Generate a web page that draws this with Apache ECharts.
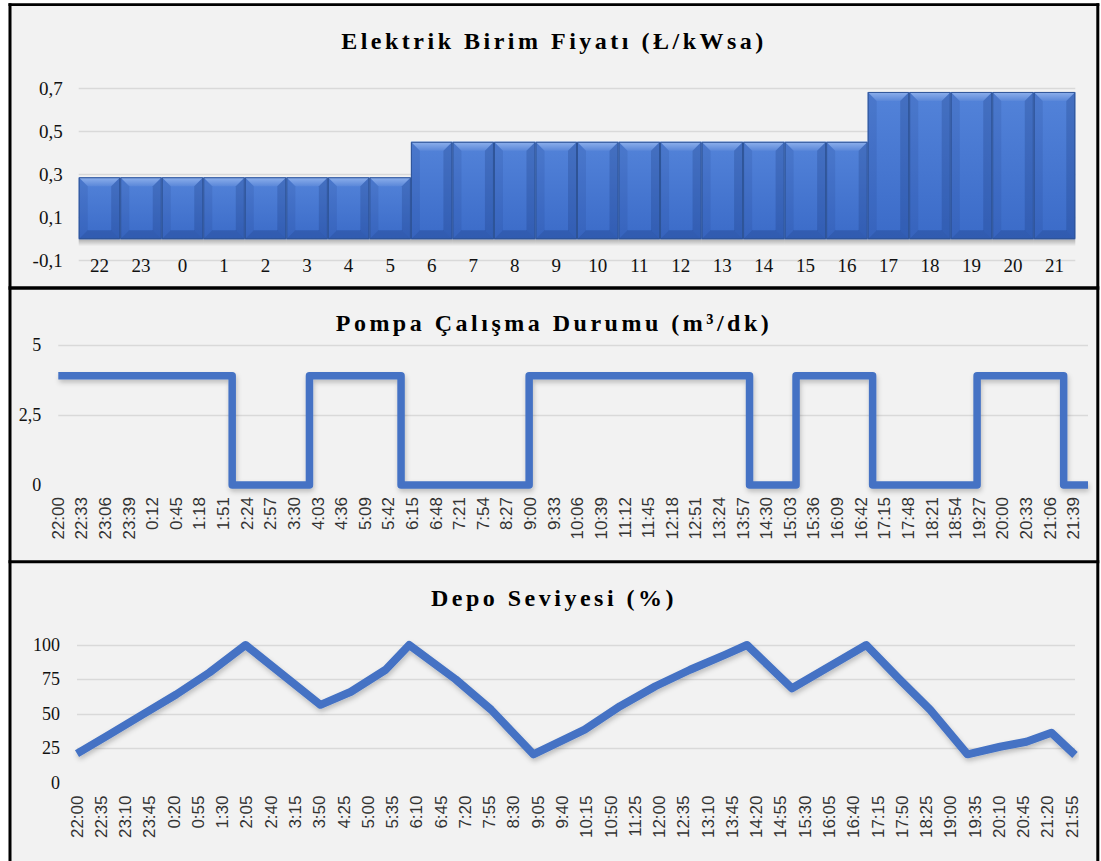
<!DOCTYPE html>
<html>
<head>
<meta charset="utf-8">
<script src="https://cdn.jsdelivr.net/npm/echarts@6.0.0/dist/echarts.min.js"></script>
<style>
  html, body { margin: 0; padding: 0; background: #ffffff; }
  #chart { width: 1101px; height: 861px; }
  /* spaced-out bold panel titles */
  #chart text[style*="bold"] { letter-spacing: 3.5px; }
</style>
</head>
<body>
<div id="chart"></div>
<script>
// ---- Electricity unit price per hour (tariff day starts at 22:00) ----
const priceHours = ['22', '23', '0', '1', '2', '3', '4', '5', '6', '7', '8', '9',
  '10', '11', '12', '13', '14', '15', '16', '17', '18', '19', '20', '21'];
const unitPrice = [0.288, 0.288, 0.288, 0.288, 0.288, 0.288, 0.288, 0.288,
  0.453, 0.453, 0.453, 0.453, 0.453, 0.453, 0.453, 0.453, 0.453, 0.453, 0.453,
  0.685, 0.685, 0.685, 0.685, 0.685];
const priceTicks = [-0.1, 0.1, 0.3, 0.5, 0.7];

// ---- Pump switching instants and the flow that holds after each one (m3/dk) ----
const pumpTimes = ['22:00', '2:03', '3:51', '5:59', '8:58', '14:06', '15:11', '16:58', '19:24', '21:25', '21:59'];
const pumpFlow = [3.9, 0, 3.9, 0, 3.9, 0, 3.9, 0, 3.9, 0, 0];
const pumpTicks = [0, 2.5, 5];
const pumpLabelStep = 33;   // minutes between time labels

// ---- Tank level (%) at its turning points through the day ----
const levelTimes = ['22:00', '22:47', '23:35', '0:23', '1:11', '2:03', '3:51', '4:35', '5:25', '5:59',
  '7:06', '7:57', '8:58', '10:12', '11:03', '11:54', '12:44', '13:35', '14:06', '15:11',
  '16:58', '17:46', '18:30', '19:24', '20:11', '20:49', '21:25', '21:59'];
const tankLevel = [21, 35, 49.5, 64, 80, 100, 56.5, 66, 82, 100,
  75, 53, 20.5, 38.5, 55.5, 70, 82, 93, 100, 68.5,
  100, 75, 53, 20.5, 26, 29.6, 36.2, 20];
const levelTicks = [0, 25, 50, 75, 100];
const levelLabelStep = 35;

// ---- helpers ----
const DAY_START = 22 * 60;
function toMinute(t) {
  const [h, m] = t.split(':').map(Number);
  return (h * 60 + m - DAY_START + 1440) % 1440;
}
function clock(v) {
  const tot = (DAY_START + Math.round(v)) % 1440;
  const h = Math.floor(tot / 60), m = tot % 60;
  return h + ':' + String(m).padStart(2, '0');
}
const comma = v => String(+(+v).toFixed(2)).replace('.', ',');

const SERIF = 'Liberation Serif';
const SANS = 'Liberation Sans';
const BLUE = '#4472c4';
const GRID_LINE = { show: true, lineStyle: { color: '#d9d9d9', width: 1.4 } };

function vgrad(c0, c1) {
  return { type: 'linear', x: 0, y: 0, x2: 0, y2: 1,
    colorStops: [{ offset: 0, color: c0 }, { offset: 1, color: c1 }] };
}

// Bevelled column, in the style of a spreadsheet "angle" bevel
function bevelBar(params, api) {
  const cat = api.value(0), val = api.value(1);
  const top = api.coord([cat, val]);
  const base = api.coord([cat, 0]);
  const w = api.size([1, 0])[0];
  const x0 = top[0] - w / 2, x1 = top[0] + w / 2;
  const yT = top[1], yB = base[1];
  const b = Math.min(9, w / 4, (yB - yT) / 4);
  return {
    type: 'group',
    children: [
      { type: 'rect', shape: { x: x0, y: yB, width: w, height: 7 },
        style: { fill: vgrad('rgba(0,0,0,0.28)', 'rgba(0,0,0,0)') } },
      { type: 'rect', shape: { x: x0, y: yT, width: w, height: yB - yT },
        style: { fill: vgrad('#5383d9', '#3b6bc8') } },
      { type: 'polygon', shape: { points: [[x0, yT], [x1, yT], [x1 - b, yT + b], [x0 + b, yT + b]] },
        style: { fill: vgrad('#8fb1ec', '#5a87d9') } },
      { type: 'polygon', shape: { points: [[x0, yT], [x0 + b, yT + b], [x0 + b, yB - b], [x0, yB]] },
        style: { fill: 'rgba(25,55,125,0.14)' } },
      { type: 'polygon', shape: { points: [[x1, yT], [x1 - b, yT + b], [x1 - b, yB - b], [x1, yB]] },
        style: { fill: 'rgba(20,45,110,0.22)' } },
      { type: 'polygon', shape: { points: [[x0, yB], [x0 + b, yB - b], [x1 - b, yB - b], [x1, yB]] },
        style: { fill: 'rgba(20,45,110,0.26)' } },
      { type: 'rect', shape: { x: x0 + 0.5, y: yT + 0.5, width: w - 1, height: yB - yT - 1 },
        style: { fill: 'none', stroke: '#2e5396', lineWidth: 1 } }
    ]
  };
}

const titleStyle = { fontFamily: SERIF, fontWeight: 'bold', fontSize: 24, fill: '#000',
  textAlign: 'center', textVerticalAlign: 'middle' };

const chart = echarts.init(document.getElementById('chart'), null, { renderer: 'svg' });

chart.setOption({
  animation: false,
  backgroundColor: '#f2f2f2',
  grid: [
    { left: 78.7, top: 88.7, width: 996.6, height: 172, outerBoundsMode: 'none' },
    { left: 58.3, top: 345, width: 1029.7, height: 140, outerBoundsMode: 'none' },
    { left: 77, top: 645, width: 998, height: 137.5, outerBoundsMode: 'none' }
  ],
  xAxis: [
    { type: 'category', gridIndex: 0, data: priceHours, boundaryGap: true,
      axisLine: { show: false }, axisTick: { show: false }, splitLine: { show: false },
      axisLabel: { interval: 0, margin: -5, fontFamily: SERIF, fontSize: 19, color: '#111' } },
    { type: 'value', gridIndex: 1, min: 0, max: 1439, interval: pumpLabelStep,
      axisLine: { show: false }, axisTick: { show: false }, splitLine: { show: false },
      axisLabel: { rotate: 90, margin: 12, showMaxLabel: false, showMinLabel: true,
        formatter: clock, fontFamily: SANS, fontSize: 17, color: '#333' } },
    { type: 'value', gridIndex: 2, min: 0, max: 1439, interval: levelLabelStep,
      axisLine: { show: false }, axisTick: { show: false }, splitLine: { show: false },
      axisLabel: { rotate: 90, margin: 13, showMaxLabel: false, showMinLabel: true,
        formatter: clock, fontFamily: SANS, fontSize: 17, color: '#333' } }
  ],
  yAxis: [
    { type: 'value', gridIndex: 0, min: priceTicks[0], max: priceTicks[priceTicks.length - 1],
      axisLine: { show: false },
      axisTick: { show: false, customValues: priceTicks },
      splitLine: GRID_LINE,
      axisLabel: { customValues: priceTicks, formatter: v => comma(v), margin: 16,
        fontFamily: SERIF, fontSize: 19, color: '#111' } },
    { type: 'value', gridIndex: 1, min: pumpTicks[0], max: pumpTicks[2], interval: pumpTicks[1],
      axisLine: { show: false }, axisTick: { show: false },
      splitLine: Object.assign({ showMinLine: false }, GRID_LINE),
      axisLabel: { formatter: v => comma(v), margin: 17, fontFamily: SERIF, fontSize: 18, color: '#111' } },
    { type: 'value', gridIndex: 2, min: levelTicks[0], max: levelTicks[4], interval: levelTicks[1],
      axisLine: { show: false }, axisTick: { show: false },
      splitLine: Object.assign({ showMinLine: false }, GRID_LINE),
      axisLabel: { margin: 17, fontFamily: SERIF, fontSize: 18, color: '#111' } }
  ],
  series: [
    { type: 'custom', name: 'Elektrik Birim Fiyatı', xAxisIndex: 0, yAxisIndex: 0,
      renderItem: bevelBar, encode: { x: 0, y: 1 },
      data: unitPrice.map((v, i) => [i, v]) },
    { type: 'line', name: 'Pompa Çalışma Durumu', xAxisIndex: 1, yAxisIndex: 1,
      step: 'end', showSymbol: false, clip: false,
      lineStyle: { color: BLUE, width: 7.5, join: 'round', cap: 'butt',
        shadowColor: 'rgba(0,0,0,0.22)', shadowBlur: 5, shadowOffsetX: 1, shadowOffsetY: 3 },
      data: pumpTimes.map((t, i) => [toMinute(t), pumpFlow[i]]) },
    { type: 'line', name: 'Depo Seviyesi', xAxisIndex: 2, yAxisIndex: 2,
      showSymbol: false, clip: false,
      lineStyle: { color: BLUE, width: 8, join: 'round', cap: 'butt',
        shadowColor: 'rgba(0,0,0,0.22)', shadowBlur: 5, shadowOffsetX: 1, shadowOffsetY: 3 },
      data: levelTimes.map((t, i) => [toMinute(t), tankLevel[i]]) }
  ],
  graphic: [
    // white margin outside the frame
    { type: 'rect', shape: { x: 0, y: 0, width: 8.5, height: 861 }, style: { fill: '#fff' }, z: 100 },
    { type: 'rect', shape: { x: 0, y: 0, width: 1101, height: 3.3 }, style: { fill: '#fff' }, z: 100 },
    { type: 'rect', shape: { x: 1099.3, y: 0, width: 2, height: 861 }, style: { fill: '#fff' }, z: 100 },
    // frame and panel separators
    { type: 'line', shape: { x1: 10, y1: 3.3, x2: 10, y2: 861 }, style: { stroke: '#000', lineWidth: 3 }, z: 101 },
    { type: 'line', shape: { x1: 1097.8, y1: 3.3, x2: 1097.8, y2: 861 }, style: { stroke: '#000', lineWidth: 3 }, z: 101 },
    { type: 'line', shape: { x1: 8.5, y1: 4.6, x2: 1099.3, y2: 4.6 }, style: { stroke: '#000', lineWidth: 2.6 }, z: 101 },
    { type: 'line', shape: { x1: 8.5, y1: 288, x2: 1099.3, y2: 288 }, style: { stroke: '#000', lineWidth: 3.5 }, z: 101 },
    { type: 'line', shape: { x1: 8.5, y1: 561.8, x2: 1099.3, y2: 561.8 }, style: { stroke: '#000', lineWidth: 3 }, z: 101 },
    // panel titles
    { type: 'text', x: 554, y: 41, z: 102, style: Object.assign({ text: 'Elektrik Birim Fiyatı (Ł/kWsa)' }, titleStyle) },
    { type: 'text', x: 554, y: 323, z: 102, style: Object.assign({ text: 'Pompa Çalışma Durumu (m³/dk)' }, titleStyle) },
    { type: 'text', x: 554, y: 597.5, z: 102, style: Object.assign({ text: 'Depo Seviyesi (%)' }, titleStyle) }
  ]
});
</script>
</body>
</html>
